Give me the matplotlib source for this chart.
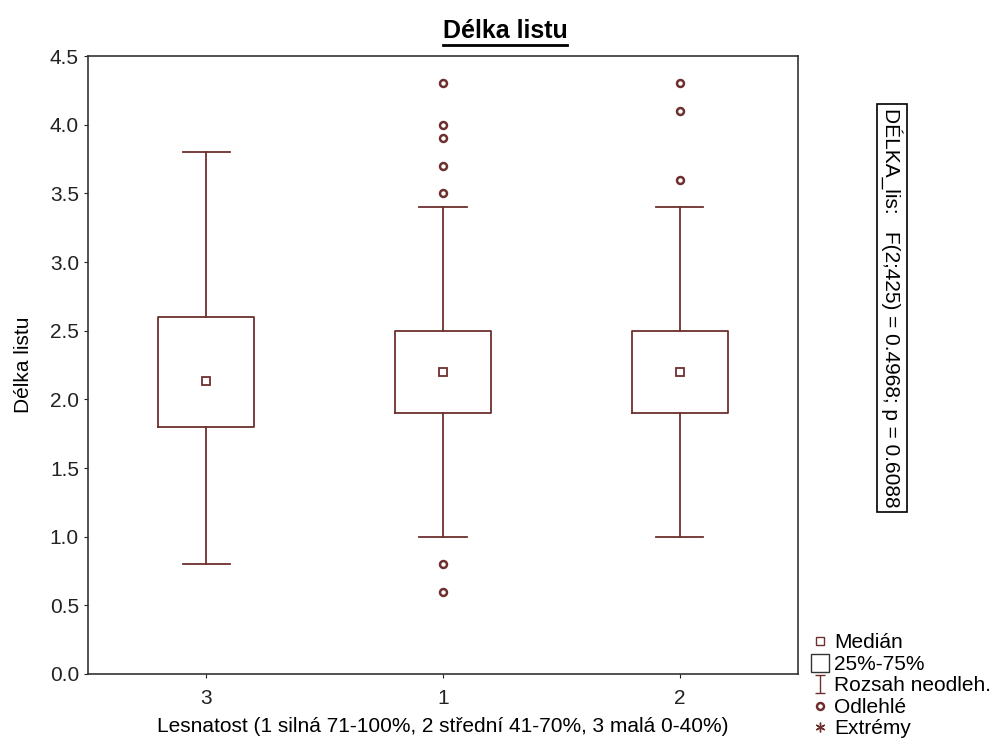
import matplotlib.pyplot as plt
from matplotlib.lines import Line2D
from matplotlib.path import Path

plt.rcParams['font.family'] = ['Liberation Sans', 'DejaVu Sans']

# Data
groups = ['3', '1', '2']
q1 = [1.8, 1.9, 1.9]
q3 = [2.6, 2.5, 2.5]
medians = [2.13, 2.2, 2.2]
whis_lo = [0.8, 1.0, 1.0]
whis_hi = [3.8, 3.4, 3.4]
outliers = [[], [4.3, 4.0, 3.9, 3.7, 3.5, 0.8, 0.6], [4.3, 4.1, 3.6]]

col = '#6e2f2f'
fs = 15

fig = plt.figure(figsize=(9.92, 7.44), dpi=100)
ax = fig.add_axes([0.0887, 0.0941, 0.7157, 0.8306])

stats = []
for i in range(len(groups)):
    stats.append({'label': groups[i], 'med': medians[i], 'q1': q1[i], 'q3': q3[i],
                  'whislo': whis_lo[i], 'whishi': whis_hi[i], 'fliers': outliers[i]})

pos = list(range(1, len(groups) + 1))
ax.bxp(stats, positions=pos, widths=0.405, capwidths=0.2,
       boxprops=dict(color=col, linewidth=1.3),
       whiskerprops=dict(color=col, linewidth=1.3),
       capprops=dict(color=col, linewidth=1.3),
       medianprops=dict(visible=False),
       flierprops=dict(marker='o', markersize=5, markerfacecolor='none',
                       markeredgecolor=col, markeredgewidth=1.8))
ax.plot(pos, medians, 's', markersize=6, markerfacecolor='none',
        markeredgecolor=col, markeredgewidth=1.3, linestyle='none')

ax.set_xlim(0.5, 3.5)
ax.set_ylim(0, 4.5)
ax.set_yticks([0, 0.5, 1, 1.5, 2, 2.5, 3, 3.5, 4, 4.5])
ax.set_yticklabels([f'{v:.1f}' for v in ax.get_yticks()])
ax.set_xticks(pos)
ax.set_xticklabels(groups)
ax.tick_params(labelsize=fs, length=3, colors='#222222')
ax.tick_params(axis='x', pad=8)
for s in ax.spines.values():
    s.set_linewidth(1.2)
    s.set_color('#333333')

ax.set_xlabel('Lesnatost (1 silná 71-100%, 2 střední 41-70%, 3 malá 0-40%)', fontsize=fs, labelpad=6)
ax.set_ylabel('Délka listu', fontsize=fs, labelpad=12)

# underlined title
t = fig.text(0.509, 0.958, 'Délka listu', fontsize=18, fontweight='bold', ha='center', va='center')
fig.canvas.draw()
bb = t.get_window_extent().transformed(fig.transFigure.inverted())
fig.add_artist(Line2D([bb.x0, bb.x1], [bb.y0 - 0.002, bb.y0 - 0.002], color='black', linewidth=2))

fig.text(0.899, 0.586, 'DÉLKA_lis:   F(2;425) = 0.4968; p = 0.6088', rotation=270,
         fontsize=fs, ha='center', va='center',
         bbox=dict(boxstyle='square,pad=0.2', facecolor='white', edgecolor='black', linewidth=1.2))

# legend
ibar = Path([(-0.6, 1), (0.6, 1), (0, 1), (0, -1), (-0.6, -1), (0.6, -1)],
            [Path.MOVETO, Path.LINETO, Path.MOVETO, Path.LINETO, Path.MOVETO, Path.LINETO])
handles = [
    Line2D([], [], marker='s', markersize=6, markerfacecolor='none', markeredgecolor=col, linestyle='none'),
    Line2D([], [], marker='s', markersize=13, markerfacecolor='none', markeredgecolor='#333333', linestyle='none'),
    Line2D([], [], marker=ibar, markersize=13, markerfacecolor='none', markeredgecolor=col, linestyle='none'),
    Line2D([], [], marker='o', markersize=5, markerfacecolor='none', markeredgecolor=col,
           markeredgewidth=1.8, linestyle='none'),
    Line2D([], [], marker=(6, 2, 0), markersize=7, markeredgecolor=col, linestyle='none'),
]
labels = ['Medián', '25%-75%', 'Rozsah neodleh.', 'Odlehlé', 'Extrémy']
fig.legend(handles, labels, loc='lower left', bbox_to_anchor=(0.801, -0.012), frameon=False,
           fontsize=fs, handlelength=1.0, handletextpad=0.2, labelspacing=0.12, borderpad=0.2)

fig.savefig('out.png', dpi=100)
